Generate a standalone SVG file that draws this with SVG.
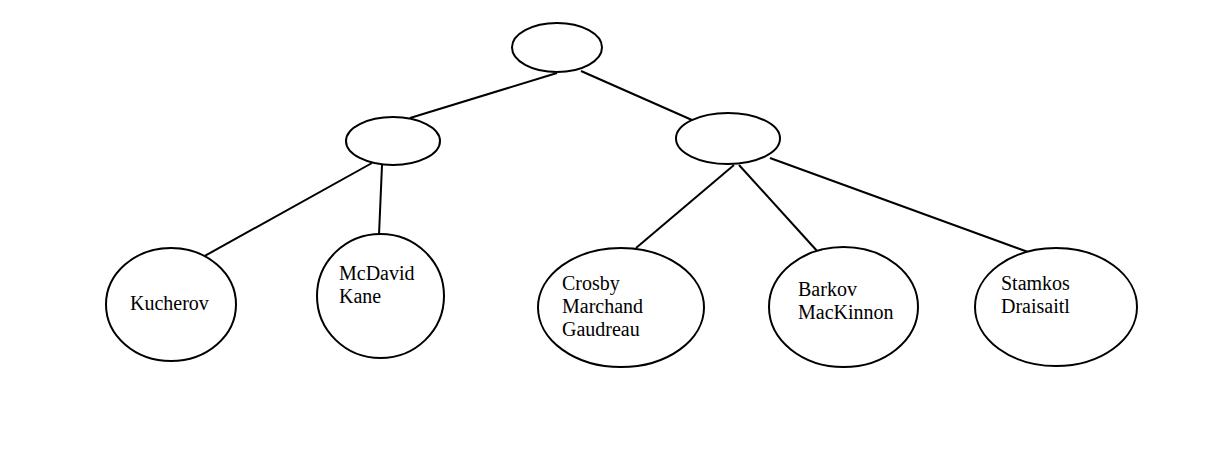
<svg xmlns="http://www.w3.org/2000/svg" width="1206" height="470" viewBox="0 0 1206 470">
<style>
.n{fill:#fff;stroke:#000;stroke-width:2}
.e line{stroke:#000;stroke-width:2}
text{font-family:"Liberation Serif","DejaVu Serif",serif;font-size:20px;fill:#000}
</style>
<rect width="1206" height="470" fill="#fff"/>
<g class="e" id="connectors">
<line x1="557" y1="73" x2="410" y2="118"/>
<line x1="581" y1="71" x2="692" y2="120"/>
<line x1="372" y1="163" x2="201" y2="258"/>
<line x1="382" y1="165" x2="379" y2="235"/>
<line x1="734" y1="165" x2="636" y2="248"/>
<line x1="739" y1="165" x2="818" y2="252"/>
<line x1="770" y1="158" x2="1028" y2="252"/>
</g>
<g id="root"><ellipse class="n" cx="557" cy="47.5" rx="45" ry="24.5"/></g>
<g id="left"><ellipse class="n" cx="393" cy="141" rx="47" ry="24"/></g>
<g id="right"><ellipse class="n" cx="728" cy="138.5" rx="52" ry="25.5"/></g>
<g id="kucherov"><ellipse class="n" cx="171" cy="304.5" rx="65" ry="56.5"/><text x="130" y="310">Kucherov</text></g>
<g id="mcdavid"><ellipse class="n" cx="380.5" cy="296" rx="63.5" ry="62"/><text x="339" y="280">McDavid</text><text x="339" y="303">Kane</text></g>
<g id="crosby"><ellipse class="n" cx="621" cy="307.5" rx="83" ry="59.5"/><text x="562" y="290">Crosby</text><text x="562" y="313">Marchand</text><text x="562" y="336">Gaudreau</text></g>
<g id="barkov"><ellipse class="n" cx="843.5" cy="307" rx="74.5" ry="60"/><text x="798" y="296">Barkov</text><text x="798" y="319">MacKinnon</text></g>
<g id="stamkos"><ellipse class="n" cx="1056" cy="307" rx="81" ry="59"/><text x="1001" y="290">Stamkos</text><text x="1001" y="313">Draisaitl</text></g>
</svg>
